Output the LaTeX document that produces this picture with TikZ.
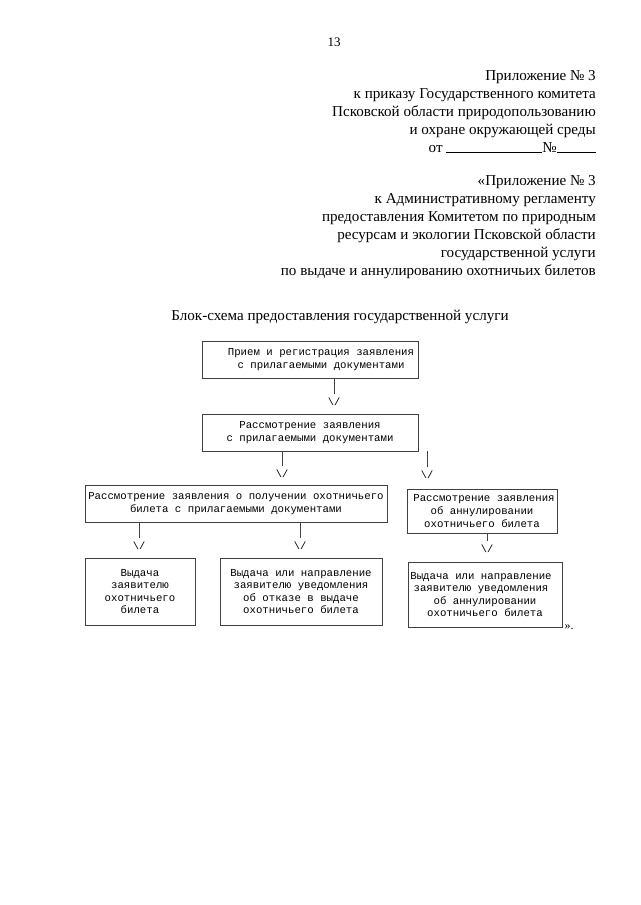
\documentclass[tikz,border=0pt]{standalone}
\usepackage{fontspec}
\setmainfont{Liberation Serif}
\newfontfamily\typewr{Liberation Mono}
\usetikzlibrary{positioning, calc}

\begin{document}
\begin{tikzpicture}[x=1pt, y=-1pt,
    hdr/.style={font=\fontsize{15.1}{18.1}\selectfont, align=right, inner sep=0pt},
    blk/.style={draw=black!75, line width=0.7pt, font=\typewr\fontsize{10.7}{12.6}\selectfont,
      align=center, inner sep=0pt},
    tip/.style={font=\typewr\fontsize{10.4}{12}\selectfont, inner sep=0pt},
    link/.style={draw=black!75, line width=0.8pt, shorten >=4pt}]
    \useasboundingbox (0,0) rectangle (640,905);
    \node[font=\fontsize{13}{15}\selectfont] (pg) at (334,42) {13};
    % header
    \node[hdr, anchor=north east] (order) at (596,70)
      {Приложение № 3\\к приказу Государственного комитета\\Псковской области природопользованию\\
       и охране окружающей среды\hspace{7pt}\\от \rule{96pt}{0.5pt}№\rule{39pt}{0.5pt}};
    \node[hdr, anchor=north east] (annex) at (596,175)
      {«Приложение № 3\\к Административному регламенту\\предоставления Комитетом по природным\hspace{5pt}\\
       ресурсам и экологии Псковской области\\государственной услуги\\по выдаче и аннулированию охотничьих билетов};
    \node[hdr] (title) at (340,317) {Блок-схема предоставления государственной услуги};
    % boxes
    \node[blk, minimum width=216pt, minimum height=37pt] (recv) at (310,359.5)
      {\hspace{22pt}Прием и регистрация заявления\\\hspace{22pt}с прилагаемыми документами};
    \node[blk, minimum width=216pt, minimum height=37pt] (check) at (310,432.5)
      {Рассмотрение заявления\\с прилагаемыми документами};
    \node[blk, minimum width=302pt, minimum height=37pt] (issue) at (236,503.5)
      {Рассмотрение заявления о получении охотничьего\\билета с прилагаемыми документами};
    \node[blk, minimum width=150pt, minimum height=44pt] (cancel) at (482,511)
      {\hspace{4pt}Рассмотрение заявления\\об аннулировании\\охотничьего билета};
    \node[blk, minimum width=110pt, minimum height=67pt] (give) at (140,591.5)
      {Выдача\\заявителю\\охотничьего\\билета};
    \node[blk, minimum width=162pt, minimum height=67pt] (deny) at (301,591.5)
      {Выдача или направление\\заявителю уведомления\\об отказе в выдаче\\охотничьего билета};
    \node[blk, minimum width=154pt, minimum height=65pt] (annul) at (485,594.5)
      {\hspace{-8pt}Выдача или направление\\\hspace{-8pt}заявителю уведомления\\об аннулировании\\охотничьего билета};
    \node[font=\fontsize{12}{14}\selectfont, anchor=west, inner sep=1pt] (close) at ([xshift=1pt]annul.south east) {».};
    % arrow tips
    \node[tip] (t1) at (334,402) {\textbackslash/};
    \node[tip] (t2) at (282,474) {\textbackslash/};
    \node[tip] (t3) at (427,475) {\textbackslash/};
    \node[tip] (t4) at (139,546) {\textbackslash/};
    \node[tip] (t5) at (300,546) {\textbackslash/};
    \node[tip] (t6) at (487,549) {\textbackslash/};
    % links
    \path[link] (recv.south -| t1.north) -- (t1.north);
    \path[link] (check.south -| t2.north) -- (t2.north);
    \path[link] (check.south -| t3.north) -- (t3.north);
    \path[link] (issue.south -| t4.north) -- (t4.north);
    \path[link] (issue.south -| t5.north) -- (t5.north);
    \path[link] (cancel.south -| t6.north) -- (t6.north);
\end{tikzpicture}
\end{document}
